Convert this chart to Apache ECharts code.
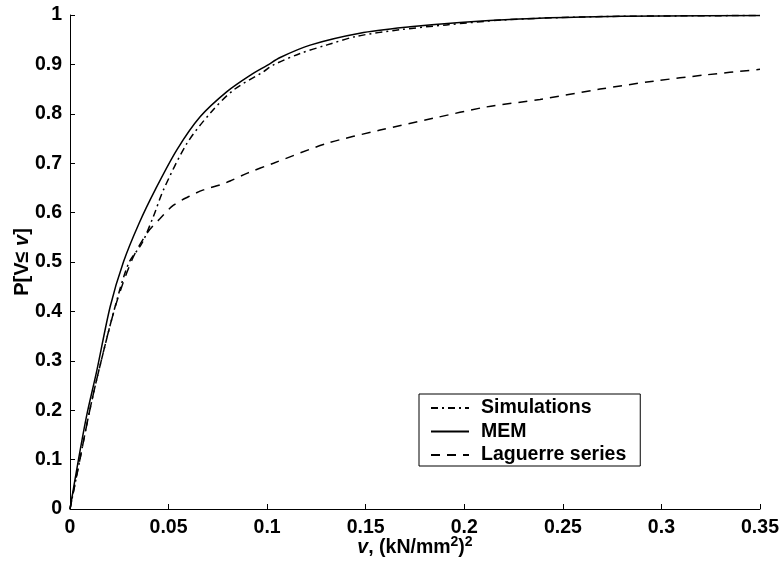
<!DOCTYPE html>
<html>
<head>
<meta charset="utf-8">
<script src="https://cdn.jsdelivr.net/npm/echarts@6/dist/echarts.min.js"></script>
<style>
  html, body { margin: 0; padding: 0; background: #fff; }
  #chart { width: 782px; height: 569px; }
</style>
</head>
<body>
<div id="chart"></div>
<script>
// values
var memV = [0, 0.0043, 0.0085, 0.0136, 0.0204, 0.0271, 0.035, 0.0432, 0.0542, 0.066, 0.0796, 0.0914, 0.1, 0.1066, 0.1218, 0.147, 0.1725, 0.1978, 0.228, 0.26, 0.3, 0.35];
var memP = [0, 0.10, 0.19, 0.28, 0.41, 0.50, 0.578, 0.646, 0.727, 0.794, 0.845, 0.878, 0.898, 0.914, 0.939, 0.963, 0.976, 0.985, 0.992, 0.996, 0.998, 0.999];

var simV = [0, 0.005, 0.0095, 0.014, 0.0229, 0.0297, 0.0365, 0.0423, 0.0474, 0.0593, 0.0711, 0.0829, 0.0981, 0.1032, 0.1167, 0.13, 0.1455, 0.167, 0.191, 0.22, 0.26, 0.3, 0.35];
var simP = [0, 0.10, 0.19, 0.27, 0.41, 0.497, 0.538, 0.592, 0.646, 0.740, 0.801, 0.848, 0.885, 0.899, 0.922, 0.939, 0.957, 0.970, 0.980, 0.990, 0.996, 0.998, 0.999];

var lagV = [0, 0.005, 0.0095, 0.014, 0.023, 0.0314, 0.039, 0.0457, 0.0525, 0.06, 0.0677, 0.0762, 0.0812, 0.09, 0.1032, 0.1303, 0.1573, 0.1843, 0.2114, 0.2384, 0.2689, 0.2959, 0.323, 0.35];
var lagP = [0, 0.10, 0.19, 0.27, 0.41, 0.504, 0.558, 0.588, 0.615, 0.632, 0.646, 0.656, 0.664, 0.680, 0.700, 0.740, 0.767, 0.791, 0.814, 0.829, 0.850, 0.866, 0.879, 0.890];

var seriesNames = ['Simulations', 'MEM', 'Laguerre series'];

function pairs(xs, ys) {
    var out = [];
    for (var i = 0; i < xs.length; i++) {
        out.push([xs[i], ys[i]]);
    }
    return out;
}

var FONT = 'Liberation Sans, Arial, sans-serif';
var chart = echarts.init(document.getElementById('chart'), null, {renderer: 'canvas'});

var option = {
    backgroundColor: '#fff',
    animation: false,
    grid: {left: 70, right: 22, top: 15, bottom: 60, containLabel: false, outerBoundsMode: 'none'},
    textStyle: {fontFamily: FONT, color: '#000'},
    legend: {
        orient: 'vertical',
        left: 419,
        top: 394,
        data: seriesNames,
        padding: [4, 14, 1, 11],
        itemWidth: 38,
        itemHeight: 14,
        itemGap: 3.5,
        borderColor: '#000',
        borderWidth: 1,
        selectedMode: false,
        itemStyle: {opacity: 0},
        textStyle: {fontFamily: FONT, fontSize: 19.5, fontWeight: 'bold', color: '#000', lineHeight: 20, padding: [0, 0, 0, 7]}
    },
    xAxis: {
        type: 'value',
        min: 0,
        max: 0.35,
        interval: 0.05,
        name: '{i|v}, (kN/mm{s|2}){s|2}',
        nameLocation: 'middle',
        nameGap: 26,
        nameMoveOverlap: false,
        nameTextStyle: {
            fontFamily: FONT, fontSize: 19.5, fontWeight: 'bold', color: '#000',
            rich: {
                i: {fontFamily: FONT, fontSize: 19.5, fontWeight: 'bold', fontStyle: 'italic', color: '#000', lineHeight: 26},
                s: {fontFamily: FONT, fontSize: 14, fontWeight: 'bold', color: '#000', lineHeight: 14, verticalAlign: 'top'}
            },
            lineHeight: 26
        },
        axisLine: {lineStyle: {color: '#000', width: 1}},
        axisTick: {inside: true, length: 5, lineStyle: {color: '#000'}},
        axisLabel: {margin: 9, fontFamily: FONT, fontSize: 19.5, fontWeight: 'bold', color: '#000'},
        splitLine: {show: false}
    },
    yAxis: {
        type: 'value',
        min: 0,
        max: 1,
        interval: 0.1,
        name: 'P[V≤ {i|v}]',
        nameLocation: 'middle',
        nameGap: 38,
        nameMoveOverlap: false,
        nameTextStyle: {
            fontFamily: FONT, fontSize: 20, fontWeight: 'bold', color: '#000',
            rich: {
                i: {fontFamily: FONT, fontSize: 20, fontWeight: 'bold', fontStyle: 'italic', color: '#000'}
            }
        },
        axisLine: {show: true, lineStyle: {color: '#000', width: 1}},
        axisTick: {show: true, inside: true, length: 5, lineStyle: {color: '#000'}},
        axisLabel: {margin: 8, fontFamily: FONT, fontSize: 19.5, fontWeight: 'bold', color: '#000'},
        splitLine: {show: false}
    },
    series: [
        {
            name: seriesNames[0],
            type: 'line',
            data: pairs(simV, simP),
            smooth: 0.3,
            symbol: 'none',
            itemStyle: {color: '#000'},
            lineStyle: {color: '#000', width: 1.5, type: [7, 4, 2, 4]}
        },
        {
            name: seriesNames[1],
            type: 'line',
            data: pairs(memV, memP),
            smooth: 0.3,
            symbol: 'none',
            itemStyle: {color: '#000'},
            lineStyle: {color: '#000', width: 1.5, type: 'solid'}
        },
        {
            name: seriesNames[2],
            type: 'line',
            data: pairs(lagV, lagP),
            smooth: 0.3,
            symbol: 'none',
            itemStyle: {color: '#000'},
            lineStyle: {color: '#000', width: 1.5, type: [9, 7]}
        }
    ]
};

chart.setOption(option);
</script>
</body>
</html>
